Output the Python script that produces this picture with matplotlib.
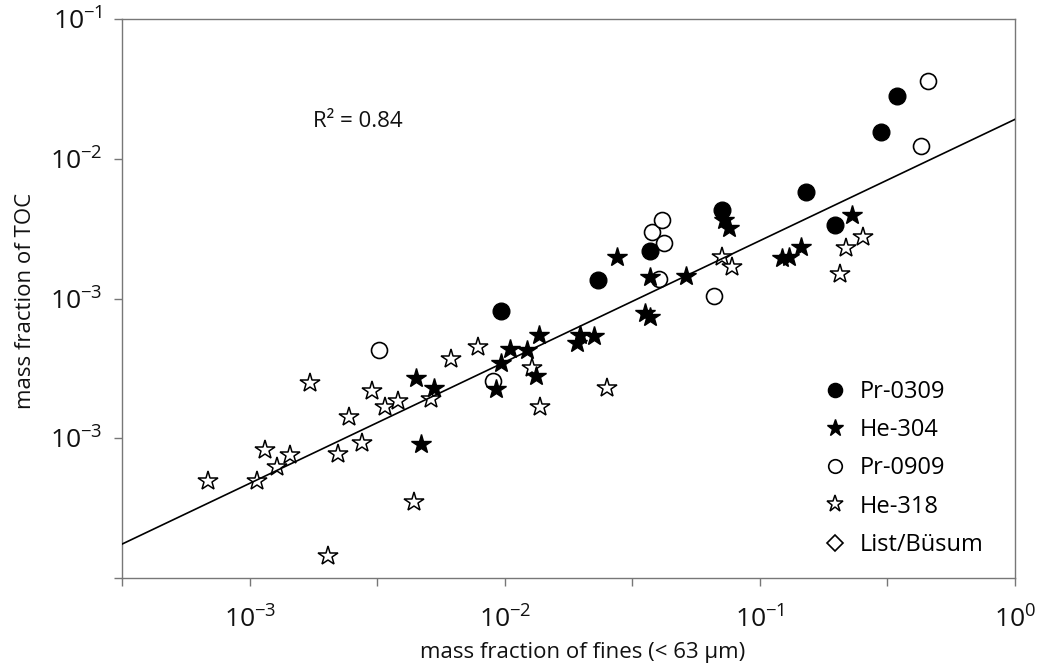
import numpy as np
import matplotlib
matplotlib.use('Agg')
import matplotlib.pyplot as plt
import matplotlib.ticker as ticker

plt.rcParams['font.family'] = ['Open Sans', 'DejaVu Sans']
plt.rcParams['mathtext.fontset'] = 'custom'
plt.rcParams['mathtext.rm'] = 'Open Sans'
plt.rcParams['mathtext.it'] = 'Open Sans:italic'

# fines fraction (x) vs. TOC fraction (y) per core
pr0309_x = [9.67e-3, 2.33e-2, 3.70e-2, 7.11e-2, 0.152, 0.198, 0.299, 0.345]
pr0309_y = [8.2e-4, 1.36e-3, 2.18e-3, 4.32e-3, 5.76e-3, 3.37e-3, 1.57e-2, 2.83e-2]

he304_x = [4.50e-3, 5.30e-3, 4.71e-3, 9.67e-3, 9.25e-3, 1.05e-2, 1.22e-2, 1.36e-2,
           1.33e-2, 1.92e-2, 1.98e-2, 2.23e-2, 2.75e-2, 3.70e-2, 3.56e-2, 3.70e-2,
           5.15e-2, 7.26e-2, 7.55e-2, 0.122, 0.130, 0.145, 0.230]
he304_y = [2.69e-4, 2.30e-4, 9.1e-5, 3.48e-4, 2.25e-4, 4.37e-4, 4.30e-4, 5.50e-4,
           2.77e-4, 4.84e-4, 5.50e-4, 5.41e-4, 2.00e-3, 1.42e-3, 7.86e-4, 7.43e-4,
           1.45e-3, 3.66e-3, 3.19e-3, 1.95e-3, 2.00e-3, 2.36e-3, 4.00e-3]

pr0909_x = [3.21e-3, 9.0e-3, 3.78e-2, 4.14e-2, 4.23e-2, 4.03e-2, 6.59e-2, 0.429, 0.459]
pr0909_y = [4.30e-4, 2.55e-4, 3.00e-3, 3.63e-3, 2.51e-3, 1.38e-3, 1.05e-3, 1.25e-2, 3.62e-2]

he318_x = [6.87e-4, 1.07e-3, 1.15e-3, 1.28e-3, 1.44e-3, 1.73e-3, 2.02e-3, 2.21e-3,
           2.46e-3, 2.76e-3, 3.02e-3, 3.40e-3, 3.82e-3, 4.40e-3, 5.14e-3, 6.18e-3,
           7.86e-3, 1.28e-2, 1.37e-2, 2.52e-2, 7.11e-2, 7.78e-2, 0.207, 0.217, 0.254]
he318_y = [4.90e-5, 4.90e-5, 8.17e-5, 6.17e-5, 7.52e-5, 2.48e-4, 1.44e-5, 7.76e-5,
           1.42e-4, 9.27e-5, 2.18e-4, 1.66e-4, 1.85e-4, 3.49e-5, 1.91e-4, 3.69e-4,
           4.53e-4, 3.18e-4, 1.67e-4, 2.27e-4, 1.97e-3, 1.69e-3, 1.50e-3, 2.31e-3, 2.74e-3]

# no List/Büsum samples in this range, legend entry only
list_x = []
list_y = []

# power law fit: TOC = a * fines^b
fit_a = 0.0192
fit_b = 0.869
r2 = 0.84

xtick_pos = [10**-3.5, 1e-3, 10**-2.5, 1e-2, 10**-1.5, 1e-1, 10**-0.5, 1e0]
xtick_lab = ['', r'$\mathregular{10^{-3}}$', '', r'$\mathregular{10^{-2}}$', '',
             r'$\mathregular{10^{-1}}$', '', r'$\mathregular{10^{0}}$']
ytick_pos = [1e-5, 1e-4, 1e-3, 1e-2, 1e-1]
ytick_lab = ['', r'$\mathregular{10^{-3}}$', r'$\mathregular{10^{-3}}$',
             r'$\mathregular{10^{-2}}$', r'$\mathregular{10^{-1}}$']

fig = plt.figure(figsize=(10.45, 6.71), dpi=100)
ax = fig.add_axes([0.117, 0.139, 0.854, 0.832])

ax.set_xscale('log')
ax.set_yscale('log')
ax.set_xlim(10**-3.5, 1)
ax.set_ylim(1e-5, 1e-1)

ax.plot(pr0309_x, pr0309_y, 'o', ms=12, mfc='black', mec='black', mew=1,
        label='Pr-0309', zorder=3)
ax.plot(he304_x, he304_y, '*', ms=14.5, mfc='black', mec='black', mew=1,
        label='He-304', zorder=3)
ax.plot(pr0909_x, pr0909_y, 'o', ms=11.5, mfc='white', mec='black', mew=1.2,
        label='Pr-0909', zorder=2)
ax.plot(he318_x, he318_y, '*', ms=14.5, mfc='white', mec='black', mew=1.1,
        label='He-318', zorder=2)
ax.plot(list_x, list_y, 'D', ms=10, mfc='white', mec='black', mew=1.2,
        label='List/Büsum', zorder=2)

xs = np.logspace(-3.5, 0, 100)
ax.plot(xs, fit_a * xs ** fit_b, color='black', lw=1.2, zorder=4)

ax.text(0.2137, 0.818, f'R² = {r2:.2f}', transform=ax.transAxes,
        fontsize=16, va='center', ha='left', color='#111111')

ax.xaxis.set_major_locator(ticker.FixedLocator(xtick_pos))
ax.xaxis.set_major_formatter(ticker.FixedFormatter(xtick_lab))
ax.yaxis.set_major_locator(ticker.FixedLocator(ytick_pos))
ax.yaxis.set_major_formatter(ticker.FixedFormatter(ytick_lab))
ax.xaxis.set_minor_locator(ticker.NullLocator())
ax.yaxis.set_minor_locator(ticker.NullLocator())

for s in ax.spines.values():
    s.set_color('#777777')
    s.set_linewidth(1.0)
ax.tick_params(direction='out', length=6, width=1.0, color='#777777',
               labelsize=19, labelcolor='#111111')
ax.tick_params(axis='x', pad=15)
ax.tick_params(axis='y', pad=8)

ax.set_xlabel('mass fraction of fines (< 63 µm)', fontsize=16, color='#111111')
ax.set_ylabel('mass fraction of TOC', fontsize=16, color='#111111')
ax.xaxis.set_label_coords(0.516, -0.115)
ax.yaxis.set_label_coords(-0.097, 0.495)

ax.legend(loc='upper left', bbox_to_anchor=(0.785, 0.354), frameon=False,
          fontsize=17, markerscale=0.85, handlelength=1.0, handletextpad=0.55,
          labelspacing=0.6, borderpad=0, borderaxespad=0)

fig.savefig('out.png', dpi=100)
